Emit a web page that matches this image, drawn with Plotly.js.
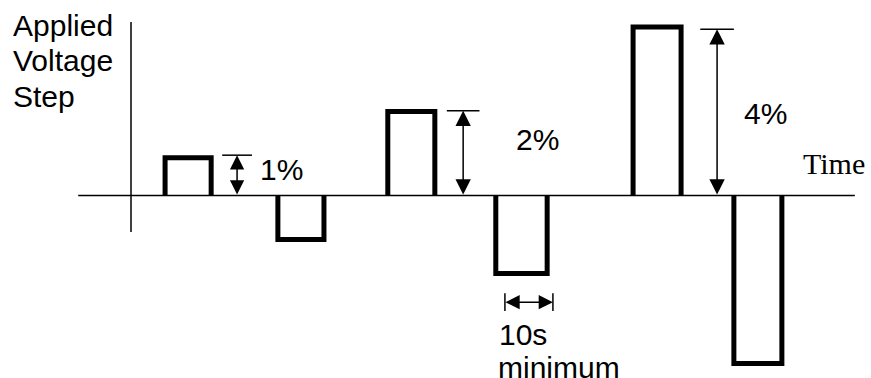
<!DOCTYPE html>
<html>
<head>
<meta charset="utf-8">
<script src="https://cdn.plot.ly/plotly-3.0.1.min.js"></script>
<style>html,body{margin:0;padding:0;background:#fff;}#chart{width:871px;height:378px;}</style>
</head>
<body>
<div id="chart"></div>
<script>
// ---- data (time in s, level in % step) ----
const pulseStart = [7.1, 30.6, 53.5, 76.0, 104.6, 125.6];
const pulseEnd   = [16.7, 40.2, 63.3, 86.7, 114.6, 135.6];
const pulseLevel = [0.9, -1.05, 2.0, -1.86, 4.01, -4.0];

const stepLabels = ['1%', '2%', '4%'];
const stepArrowTime = [22.1, 69.2, 122.1];
const stepArrowTop = [0.96, 2.02, 3.96];

const minDurationLabel = ['10s', 'minimum'];
const minDurationStart = 77.9;
const minDuration = 10;

const axisTitleLines = ['Applied', 'Voltage', 'Step'];
const timeLabel = 'Time';
const timeAxisSpan = [-11.0, 150.8];
const levelAxisSpan = [-0.87, 4.13];

// ---- layout helpers ----
const pxPerSec = 4.8, pxPerPct = 42, originX = 131, baseY = 195.5, W = 871, H = 378;
const xRange = [-originX / pxPerSec, (W - originX) / pxPerSec];
const yRange = [-(H - baseY) / pxPerPct, baseY / pxPerPct];

const traces = [];
// axes
traces.push({x: timeAxisSpan, y: [0, 0], mode: 'lines', line: {color: '#000', width: 1.5}, hoverinfo: 'skip'});
traces.push({x: [0, 0], y: levelAxisSpan, mode: 'lines', line: {color: '#000', width: 1.5}, hoverinfo: 'skip'});
// pulses
for (let i = 0; i < pulseStart.length; i++) {
  traces.push({
    x: [pulseStart[i], pulseStart[i], pulseEnd[i], pulseEnd[i]],
    y: [0, pulseLevel[i], pulseLevel[i], 0],
    mode: 'lines', line: {color: '#000', width: 5}, hoverinfo: 'skip'
  });
}

const shapes = [];
const annotations = [];
const tickHalf = [3.1, 3.4, 3.5];
const arrowSizes = [1.9, 2.05, 2.05];
for (let i = 0; i < stepLabels.length; i++) {
  shapes.push({type: 'line', xref: 'x', yref: 'y',
    x0: stepArrowTime[i] - tickHalf[i], x1: stepArrowTime[i] + tickHalf[i],
    y0: stepArrowTop[i], y1: stepArrowTop[i], line: {color: '#000', width: 1.5}});
  annotations.push({xref: 'x', yref: 'y', axref: 'x', ayref: 'y',
    x: stepArrowTime[i], y: stepArrowTop[i], ax: stepArrowTime[i], ay: 0,
    text: ' ', font: {size: 1}, borderpad: 0, showarrow: true,
    arrowside: 'end+start', arrowhead: 2, startarrowhead: 2,
    arrowsize: arrowSizes[i], startarrowsize: arrowSizes[i], arrowwidth: 1.5,
    arrowcolor: '#000', standoff: 0, startstandoff: 0});
}
const labelPos = [[31.25, 0.63], [84.7, 1.33], [132.1, 1.96]];
for (let i = 0; i < stepLabels.length; i++) {
  annotations.push({xref: 'x', yref: 'y', x: labelPos[i][0], y: labelPos[i][1],
    text: stepLabels[i], showarrow: false, xanchor: 'center', yanchor: 'middle',
    font: {family: 'Liberation Sans, Arial, sans-serif', size: 30, color: '#000'}});
}
// 10 s minimum
const mdY = -2.54, mdBar = 0.21;
const mdEnd = minDurationStart + minDuration;
shapes.push({type: 'line', xref: 'x', yref: 'y', x0: minDurationStart, x1: minDurationStart, y0: mdY - mdBar, y1: mdY + mdBar, line: {color: '#000', width: 1.5}});
shapes.push({type: 'line', xref: 'x', yref: 'y', x0: mdEnd, x1: mdEnd, y0: mdY - mdBar, y1: mdY + mdBar, line: {color: '#000', width: 1.5}});
annotations.push({xref: 'x', yref: 'y', axref: 'x', ayref: 'y',
  x: mdEnd, y: mdY, ax: minDurationStart, ay: mdY,
  text: ' ', font: {size: 1}, borderpad: 0, showarrow: true,
  arrowside: 'end+start', arrowhead: 2, startarrowhead: 2,
  arrowsize: 1.9, startarrowsize: 1.9, arrowwidth: 1.5,
  arrowcolor: '#000', standoff: 0, startstandoff: 0});
annotations.push({xref: 'x', yref: 'y', x: 76.2, y: -3.30, text: minDurationLabel[0],
  showarrow: false, xanchor: 'left', yanchor: 'middle',
  font: {family: 'Liberation Sans, Arial, sans-serif', size: 30, color: '#000'}});
annotations.push({xref: 'x', yref: 'y', x: 76.0, y: -4.1, text: minDurationLabel[1],
  showarrow: false, xanchor: 'left', yanchor: 'middle',
  font: {family: 'Liberation Sans, Arial, sans-serif', size: 30, color: '#000'}});
// Time label
annotations.push({xref: 'x', yref: 'y', x: 146.4, y: 0.77, text: timeLabel,
  showarrow: false, xanchor: 'center', yanchor: 'middle',
  font: {family: 'Liberation Serif, Times New Roman, serif', size: 30, color: '#000'}});
// y title lines
const titleY = [4.05, 3.22, 2.36];
for (let i = 0; i < axisTitleLines.length; i++) {
  annotations.push({xref: 'x', yref: 'y', x: -24.9, y: titleY[i], text: axisTitleLines[i],
    showarrow: false, xanchor: 'left', yanchor: 'middle',
    font: {family: 'Liberation Sans, Arial, sans-serif', size: 30, color: '#000'}});
}

const layout = {
  width: W, height: H,
  margin: {l: 0, r: 0, t: 0, b: 0, pad: 0},
  paper_bgcolor: '#fff', plot_bgcolor: '#fff',
  showlegend: false,
  xaxis: {range: xRange, visible: false, fixedrange: true},
  yaxis: {range: yRange, visible: false, fixedrange: true},
  shapes: shapes,
  annotations: annotations
};
Plotly.newPlot('chart', traces, layout, {displayModeBar: false, staticPlot: true});
</script>
</body>
</html>
